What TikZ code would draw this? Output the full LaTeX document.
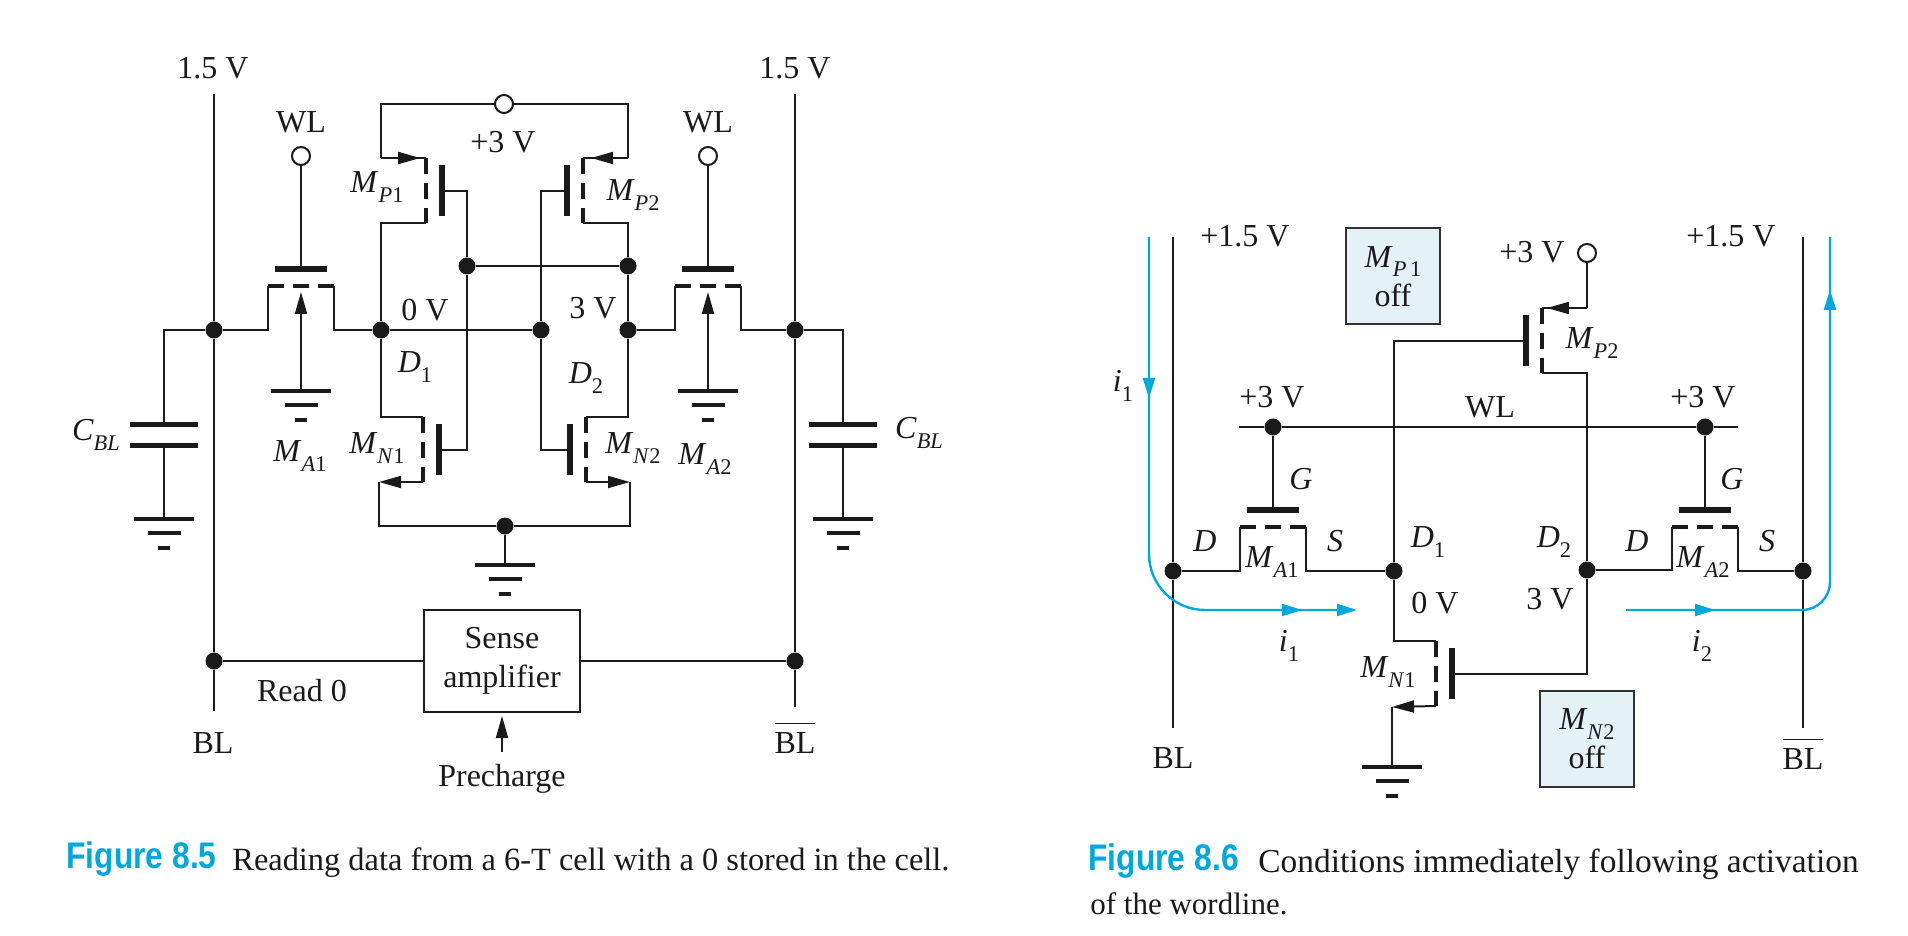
\documentclass[tikz,border=0pt]{standalone}
\usepackage{fontspec}
\setmainfont{Liberation Serif}
\newfontfamily\capsans{Liberation Sans}
\usetikzlibrary{arrows.meta, decorations.markings}
\definecolor{ink}{HTML}{1A1A1A}
\definecolor{cur-blue}{HTML}{00A8DC}
\definecolor{box-blue}{HTML}{E4F2F7}
\newcommand{\tname}[2]{\textit{#1}\raisebox{-.3em}{\fontsize{11.2}{11.2}\selectfont #2}}
\newcommand{\figtag}[1]{{\capsans\bfseries\fontsize{18.5}{18.5}\selectfont\color{cur-blue}\scalebox{.86}[1]{#1}}}
\tikzset{
	>={Triangle[length=11pt,width=6pt]},
	wire/.style={draw=ink, line width=1pt},
	chan/.style={draw=ink, line width=2pt, dash pattern=on 8pt off 4.5pt},
	gatebar/.style={draw=ink, line width=3pt},
	dot/.style={circle, fill=ink, inner sep=0pt, minimum size=8.5pt},
	term/.style={circle, draw=ink, line width=1pt, fill=white, inner sep=0pt, minimum size=9pt},
	offbox/.style={draw=ink!90, line width=1pt, fill=box-blue, minimum width=47pt, minimum height=48pt, align=center},
	curr/.style={draw=cur-blue, line width=1.2pt},
	markat/.style={postaction=decorate, decoration={markings, mark=at position #1 with {\arrow{>}}}},
	vmos/.pic={
		\coordinate (-top) at (0,0);
		\coordinate (-bot) at (0,65);
		\coordinate (-gate) at (16,33);
		\draw[chan] (-top) -- (-bot);
		\draw[gatebar] (16,7) -- (16,58);
	},
	hmos/.pic={
		\coordinate (-l) at (-33,0);
		\coordinate (-r) at (33,0);
		\coordinate (-gate) at (0,-17);
		\coordinate (-arr) at (0,6);
		\draw[chan] (-l) -- (-r);
		\draw[gatebar] (-26,-17) -- (26,-17);
	},
	gndsym/.pic={
		\coordinate (-t) at (0,0);
		\draw[draw=ink, line width=2pt] (-30,0) -- (30,0);
		\draw[draw=ink, line width=2pt] (-16.5,14) -- (16.5,14);
		\draw[draw=ink, line width=2pt] (-6,29) -- (6,29);
	},
	capsym/.pic={
		\coordinate (-a) at (0,0);
		\coordinate (-b) at (0,21);
		\draw[draw=ink, line width=2.5pt] (-34,0) -- (34,0);
		\draw[draw=ink, line width=2.5pt] (-34,21) -- (34,21);
	},
}
\begin{document}
\begin{tikzpicture}[x=0.5pt, y=-0.5pt, every node/.append style={inner sep=0pt, text=ink, font=\fontsize{16}{19.5}\selectfont}]
	\useasboundingbox (0,0) rectangle (1908,936);

	% Figure 8.5
	\coordinate (bl-top) at (214,94);
	\coordinate (bl-end) at (214,711);
	\coordinate (bb-top) at (795,94);
	\coordinate (bb-end) at (795,707);
	\node[dot] (bl-a) at (214,330) {};
	\node[dot] (bl-b) at (214,661) {};
	\node[dot] (bb-a) at (795,330) {};
	\node[dot] (bb-b) at (795,661) {};
	\node[dot] (d1) at (381,330) {};
	\node[dot] (n1) at (541,330) {};
	\node[dot] (q2) at (628,330) {};
	\node[dot] (x1) at (467,266) {};
	\node[dot] (q1) at (628,266) {};
	\node[dot] (gc) at (505,526) {};
	\node[term] (vdd) at (504,104) {};
	\node[term] (w1) at (301,156) {};
	\node[term] (w2) at (708,156) {};
	\coordinate (p1-s) at (381,158);
	\coordinate (p2-s) at (628,158);
	\coordinate (n1-s) at (379,482);
	\coordinate (n2-s) at (630,482);
	\pic (ma1) at (301,286) {hmos};
	\pic (ma2) at (708,286) {hmos};
	\pic (mp1) at (426,158) {vmos};
	\pic[xscale=-1] (mp2) at (583,158) {vmos};
	\pic (mn1) at (423,417) {vmos};
	\pic[xscale=-1] (mn2) at (586,417) {vmos};
	\pic (c1) at (164,425) {capsym};
	\pic (c2) at (843,425) {capsym};
	\pic (g1) at (164,519) {gndsym};
	\pic (g2) at (301,391) {gndsym};
	\pic (g3) at (708,391) {gndsym};
	\pic (g4) at (843,519) {gndsym};
	\pic (g5) at (505,565) {gndsym};
	\node[draw=ink, line width=1pt, minimum width=78pt, minimum height=51pt, align=center] (amp) at (502,661) {\raisebox{-2.5pt}{Sense}\\\raisebox{-2.5pt}{amplifier}};
	\node (pre) at (502,779) {Precharge};

	\draw[wire] (bl-top) -- (bl-a) -- (bl-b) -- (bl-end);
	\draw[wire] (bb-top) -- (bb-a) -- (bb-b) -- (bb-end);
	\draw[wire] (bl-a) -| (c1-a);
	\draw[wire] (c1-b) -- (g1-t);
	\draw[wire] (bb-a) -| (c2-a);
	\draw[wire] (c2-b) -- (g4-t);
	\draw[wire] (bl-a) -| (ma1-l);
	\draw[wire] (ma1-r) |- (d1);
	\draw[wire] (q2) -| (ma2-l);
	\draw[wire] (ma2-r) |- (bb-a);
	\draw[wire] (w1) -- (ma1-gate);
	\draw[wire] (w2) -- (ma2-gate);
	\draw[wire, ->] (g2-t) -- (ma1-arr);
	\draw[wire, ->] (g3-t) -- (ma2-arr);
	\draw[wire] (d1) -- (n1);
	\draw[wire] (x1) -- (q1);
	\draw[wire] (q1) -- (q2);
	\draw[wire] (vdd) -| (p1-s);
	\draw[wire] (vdd) -| (p2-s);
	\draw[wire, markat=.87] (p1-s) -- (mp1-top);
	\draw[wire, markat=.82] (p2-s) -- (mp2-top);
	\draw[wire] (mp1-bot) -| (d1);
	\draw[wire] (mp2-bot) -| (q1);
	\draw[wire] (d1) |- (mn1-top);
	\draw[wire] (q2) |- (mn2-top);
	\draw[wire] (mp1-gate) -| (x1);
	\draw[wire] (mn1-gate) -| (x1);
	\draw[wire] (mp2-gate) -| (n1);
	\draw[wire] (mn2-gate) -| (n1);
	\draw[wire, ->] (mn1-bot) -- (n1-s);
	\draw[wire, ->] (mn2-bot) -- (n2-s);
	\draw[wire] (n1-s) |- (gc);
	\draw[wire] (n2-s) |- (gc);
	\draw[wire] (gc) -- (g5-t);
	\draw[wire] (bl-b) -- (amp);
	\draw[wire] (amp) -- (bb-b);
	\draw[wire, ->, shorten <=6pt, shorten >=1.5pt] (pre) -- (amp);

	\node (v-l) at (213,68) {1.5 V};
	\node (v-r) at (795,68) {1.5 V};
	\node (wl-a) at (301,122) {WL};
	\node (wl-b) at (708,122) {WL};
	\node (v-3) at (503,142) {+3 V};
	\node (v-0) at (425,310) {0 V};
	\node (v-h) at (593,308) {3 V};
	\node (l-p1) at (377,187) {\tname{M}{\textit{P}1}};
	\node (l-p2) at (633,195) {\tname{M}{\textit{P}2}};
	\node (l-n1) at (377,448) {\tname{M}{\textit{N}1}};
	\node (l-n2) at (633,448) {\tname{M}{\textit{N}2}};
	\node (l-a1) at (300,456) {\tname{M}{\textit{A}1}};
	\node (l-a2) at (705,459) {\tname{M}{\textit{A}2}};
	\node (l-d1) at (415,367) {\tname{D}{1}};
	\node (l-d2) at (586,378) {\tname{D}{2}};
	\node (l-c1) at (96,435) {\tname{C}{\textit{BL}}};
	\node (l-c2) at (919,433) {\tname{C}{\textit{BL}}};
	\node (l-bl) at (213,743) {BL};
	\node (l-bb) at (795,738) {$\overline{\hbox{\raisebox{0pt}[.87em]{BL}}}$};
	\node (l-rd) at (302,691) {Read 0};

	\node[anchor=base west] (cap-a) at (66,868) {\figtag{Figure 8.5}};
	\node[anchor=base west, font=\fontsize{16.2}{16.2}\selectfont] (txt-a) at (232,870) {Reading data from a 6-T cell with a 0 stored in the cell.};

	% Figure 8.6
	\coordinate (sl-top) at (1173,237);
	\coordinate (sl-end) at (1173,728);
	\coordinate (sr-top) at (1803,237);
	\coordinate (sr-end) at (1803,728);
	\coordinate (wl-l) at (1239,427);
	\coordinate (wl-r) at (1738,427);
	\coordinate (p4-s) at (1587,308);
	\coordinate (n3-s) at (1392,707);
	\node[dot] (sl-a) at (1173,571) {};
	\node[dot] (sr-a) at (1803,571) {};
	\node[dot] (d3) at (1394,571) {};
	\node[dot] (d4) at (1587,570) {};
	\node[dot] (w3) at (1273,427) {};
	\node[dot] (w4) at (1705,427) {};
	\node[term] (vdd2) at (1587,253) {};
	\pic (ma3) at (1273,527) {hmos};
	\pic (ma4) at (1705,527) {hmos};
	\pic[xscale=-1] (mp4) at (1542,308) {vmos};
	\pic (mn3) at (1436,641) {vmos};
	\pic (g6) at (1392,767) {gndsym};

	\draw[wire] (sl-top) -- (sl-a) -- (sl-end);
	\draw[wire] (sr-top) -- (sr-a) -- (sr-end);
	\draw[wire] (wl-l) -- (w3) -- (w4) -- (wl-r);
	\draw[wire] (w3) -- (ma3-gate);
	\draw[wire] (w4) -- (ma4-gate);
	\draw[wire] (sl-a) -| (ma3-l);
	\draw[wire] (ma3-r) |- (d3);
	\draw[wire] (d4) -| (ma4-l);
	\draw[wire] (ma4-r) |- (sr-a);
	\draw[wire] (vdd2) -- (p4-s);
	\draw[wire, markat=.89] (p4-s) -- (mp4-top);
	\draw[wire] (mp4-bot) -| (d4);
	\draw[wire] (mp4-gate) -| (d3);
	\draw[wire] (d3) |- (mn3-top);
	\draw[wire] (mn3-gate) -| (d4);
	\draw[wire, ->] (mn3-bot) -- (n3-s);
	\draw[wire] (n3-s) -- (g6-t);

	% current paths
	\coordinate (i1-top) at (1149,237);
	\coordinate (i1-end) at (1357,610);
	\coordinate (i2-start) at (1626,610);
	\coordinate (i2-top) at (1830,237);
	\draw[curr, rounded corners=28pt, -{Triangle[length=10pt,width=6pt]},
		postaction={decorate, decoration={markings, mark=at position 80.5pt with {\arrow{Triangle[length=10pt,width=6pt]}}, mark=at position 251pt with {\arrow{Triangle[length=10pt,width=6pt]}}}}] (i1-top) |- (i1-end);
	\draw[curr, rounded corners=14pt,
		postaction={decorate, decoration={markings, mark=at position 44.5pt with {\arrow{Triangle[length=10pt,width=6pt]}}, mark=at position -26.5pt with {\arrow{Triangle[length=10pt,width=6pt]}}}}] (i2-start) -| (i2-top);

	\node[offbox] (off-p) at (1393,276.5) {\tname{M}{\textit{P}\,1}\\off};
	\node[offbox] (off-n) at (1587,739) {\tname{M}{\textit{N}2}\\off};
	\node (v2-l) at (1245,236) {+1.5 V};
	\node (v2-r) at (1731,236) {+1.5 V};
	\node (v2-t) at (1532,252) {+3 V};
	\node (v3-a) at (1272,397) {+3 V};
	\node (v3-b) at (1703,397) {+3 V};
	\node (wl-t) at (1490,407) {WL};
	\node (t-g1) at (1301,479) {\textit{G}};
	\node (t-g2) at (1732,479) {\textit{G}};
	\node (t-d1) at (1205,541) {\textit{D}};
	\node (t-s1) at (1335,541) {\textit{S}};
	\node (t-d2) at (1637,541) {\textit{D}};
	\node (t-s2) at (1767,541) {\textit{S}};
	\node (t-d3) at (1428,542) {\tname{D}{1}};
	\node (t-d4) at (1554,542) {\tname{D}{2}};
	\node (t-a1) at (1272,562) {\tname{M}{\textit{A}1}};
	\node (t-a2) at (1703,562) {\tname{M}{\textit{A}2}};
	\node (t-p2) at (1592,343) {\tname{M}{\textit{P}2}};
	\node (t-n1) at (1388,672) {\tname{M}{\textit{N}1}};
	\node (t-i0) at (1123,386) {\tname{i}{1}};
	\node (t-i1) at (1289,646) {\tname{i}{1}};
	\node (t-i2) at (1702,646) {\tname{i}{2}};
	\node (t-0v) at (1435,603) {0 V};
	\node (t-3v) at (1550,599) {3 V};
	\node (t-bl) at (1173,758) {BL};
	\node (t-bb) at (1803,754) {$\overline{\hbox{\raisebox{0pt}[.87em]{BL}}}$};

	\node[anchor=base west] (cap-b) at (1088,870) {\figtag{Figure 8.6}};
	\node[anchor=base west, font=\fontsize{16.7}{16.7}\selectfont] (txt-b) at (1258,872) {Conditions immediately following activation};
	\node[anchor=base west, font=\fontsize{15.5}{15.5}\selectfont] (txt-c) at (1090,914) {of the wordline.};
\end{tikzpicture}
\end{document}
